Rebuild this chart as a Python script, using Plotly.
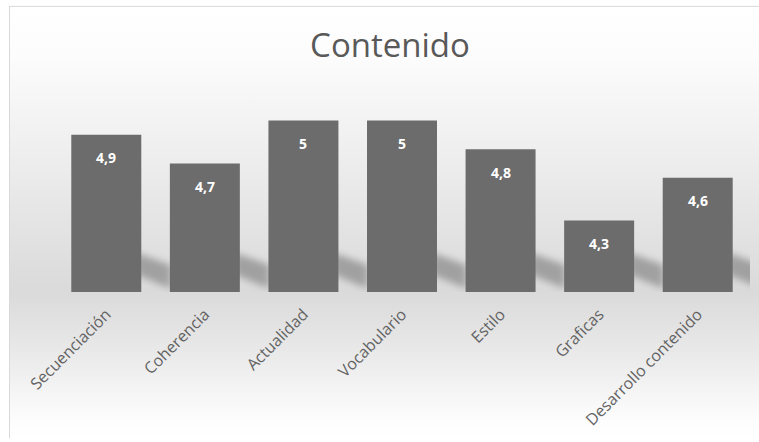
import base64
import plotly.graph_objects as go

# Chart content
title_text = "Contenido"
categories = ["Secuenciación", "Coherencia", "Actualidad", "Vocabulario",
              "Estilo", "Graficas", "Desarrollo contenido"]
scores = [4.9, 4.7, 5, 5, 4.8, 4.3, 4.6]

W, H = 759, 442
M_L, M_R, M_T, M_B = 57, 12, 92, 148
plot_w = W - M_L - M_R
plot_h = H - M_T - M_B
BAR_GAP = 0.29
Y_RANGE = [3.8, 5.2]

# Pixel geometry of the category slots, used to place the floor shadows
slot = plot_w / len(categories)
half_bar = (1 - BAR_GAP) * slot / 2
base_px = M_T + plot_h  # y pixel of the bar baseline
right_edges = [M_L + (i + 0.5) * slot + half_bar for i in range(len(categories))]

# Each bar throws a soft, slanted shadow onto the floor to its right
shadow_polys = "".join(
    f'<polygon points="{r - 6:.1f},{base_px - 40} {r + 30:.1f},{base_px - 27} '
    f'{r + 30:.1f},{base_px - 3} {r - 6:.1f},{base_px - 18}" fill="#a0a0a0"/>'
    for r in right_edges
)

# Chart-area background: framed panel with a soft vertical gradient
svg = f"""<svg xmlns="http://www.w3.org/2000/svg" width="{W}" height="{H}" viewBox="0 0 {W} {H}" preserveAspectRatio="none">
<defs>
<linearGradient id="bg" x1="0" y1="5" x2="0" y2="{H}" gradientUnits="userSpaceOnUse">
<stop offset="0" stop-color="#ffffff"/>
<stop offset="0.12" stop-color="#fcfcfc"/>
<stop offset="0.66" stop-color="#dadada"/>
<stop offset="0.80" stop-color="#e9e9e9"/>
<stop offset="0.95" stop-color="#fcfcfc"/>
<stop offset="1" stop-color="#ffffff"/>
</linearGradient>
<filter id="blur" x="-20%" y="-100%" width="140%" height="300%">
<feGaussianBlur stdDeviation="4"/>
</filter>
<clipPath id="floor"><rect x="{M_L}" y="200" width="{plot_w + 3}" height="{base_px - 200}"/></clipPath>
</defs>
<rect x="9.5" y="5.5" width="{W + 10}" height="{H + 10}" fill="url(#bg)" stroke="#d9d9d9" stroke-width="1"/>
<g clip-path="url(#floor)"><g filter="url(#blur)">{shadow_polys}</g></g>
</svg>"""
bg_uri = "data:image/svg+xml;base64," + base64.b64encode(svg.encode("utf-8")).decode("ascii")

fig = go.Figure(
    go.Bar(
        x=categories,
        y=scores,
        marker=dict(color="#6c6c6c", line=dict(width=0)),
        hoverinfo="skip",
    )
)

# Value labels near the top of each bar, with a decimal comma
for cat, val in zip(categories, scores):
    fig.add_annotation(
        x=cat, y=val, yshift=-23,
        text=("%g" % val).replace(".", ","),
        showarrow=False,
        font=dict(family="Open Sans", size=14, color="#ffffff", weight="bold"),
        xanchor="center", yanchor="middle",
    )

fig.add_layout_image(
    source=bg_uri,
    xref="paper", yref="paper",
    x=-M_L / plot_w, y=1 + M_T / plot_h,
    sizex=W / plot_w, sizey=H / plot_h,
    xanchor="left", yanchor="top",
    sizing="stretch", layer="below",
)

fig.update_layout(
    width=W, height=H,
    margin=dict(l=M_L, r=M_R, t=M_T, b=M_B, pad=0),
    paper_bgcolor="#ffffff",
    plot_bgcolor="rgba(0,0,0,0)",
    separators=",.",
    showlegend=False,
    bargap=BAR_GAP,
    title=dict(
        text=title_text,
        x=390 / W, xanchor="center",
        y=1 - 45 / H, yanchor="middle",
        font=dict(family="Open Sans", size=33, color="#595959"),
    ),
    xaxis=dict(
        showgrid=False, zeroline=False, showline=False, ticks="",
        tickangle=-45,
        ticklabelstandoff=9,
        tickfont=dict(family="Open Sans", size=16, color="#636363"),
    ),
    yaxis=dict(
        range=Y_RANGE, visible=False, showgrid=False, zeroline=False,
    ),
)

fig.write_html("out.html")
